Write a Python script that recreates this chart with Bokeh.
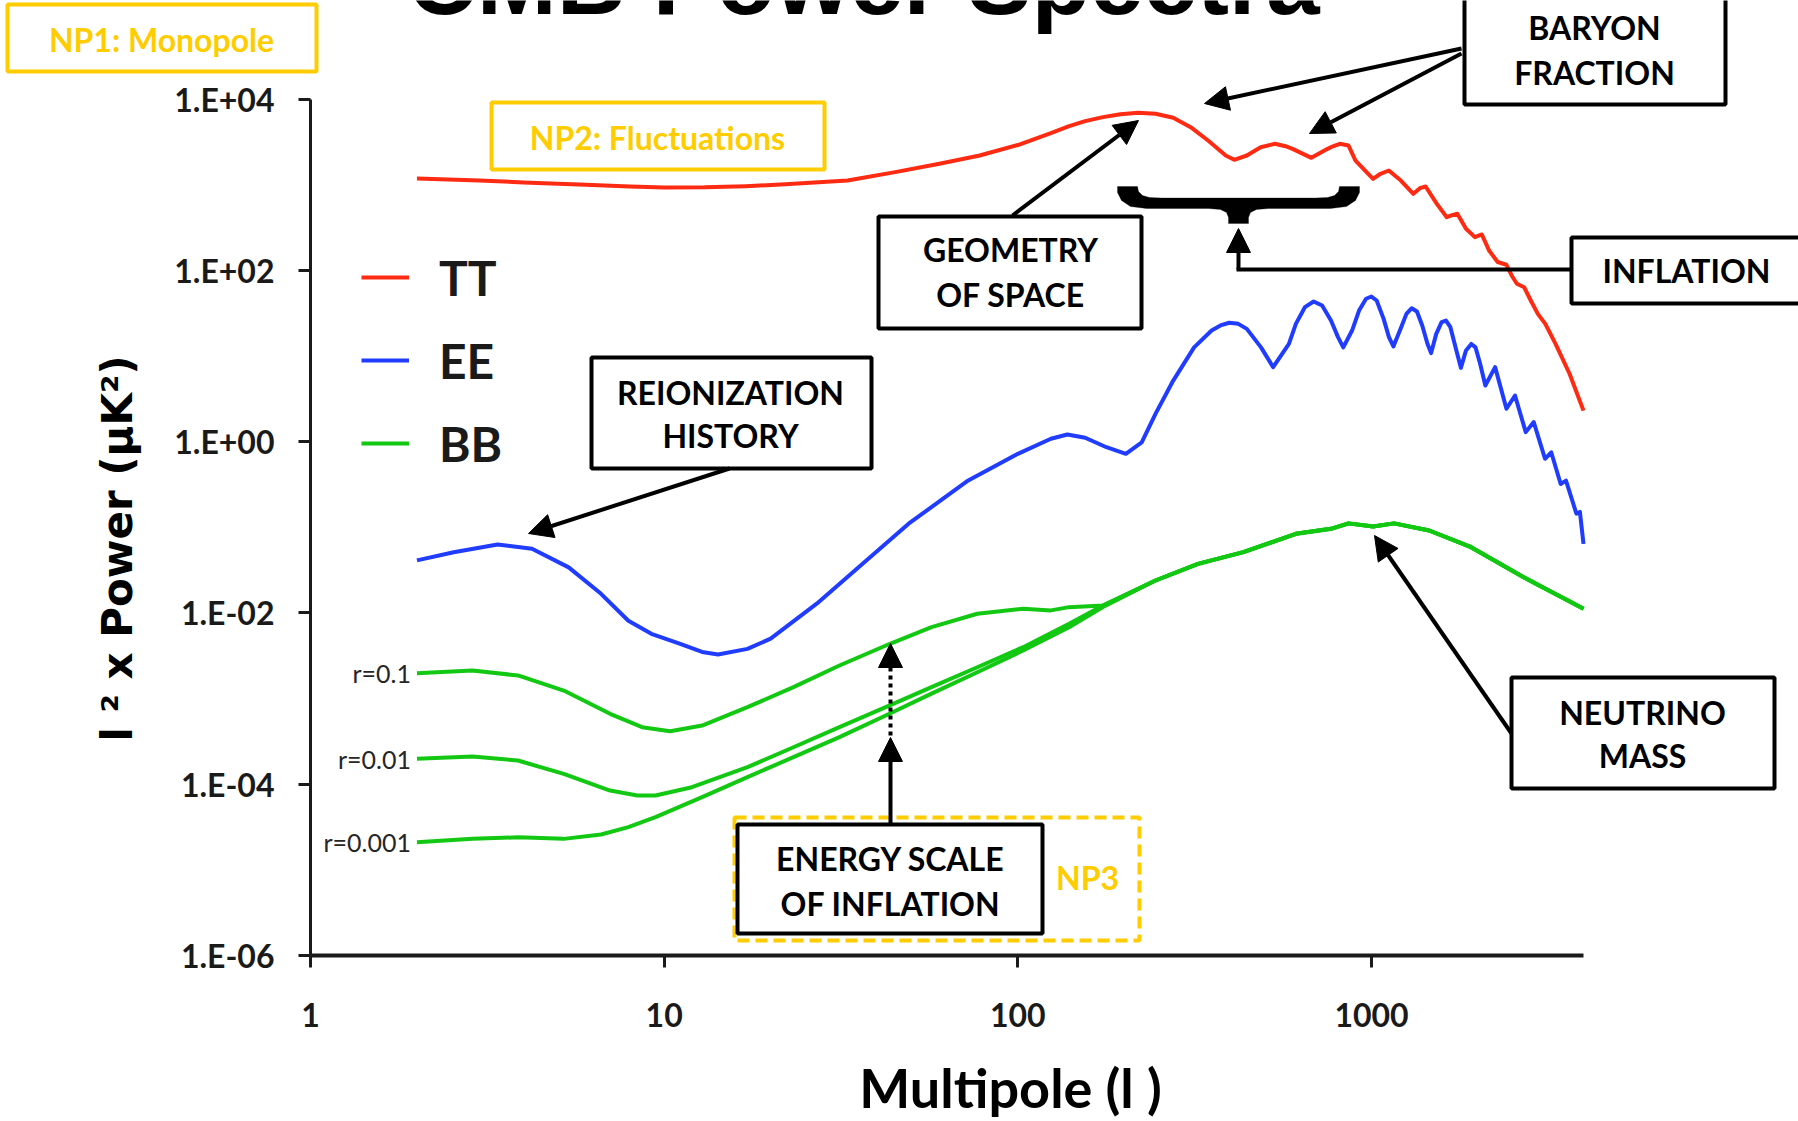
import math
from bokeh.plotting import figure
from bokeh.models import (Range1d, FixedTicker, Label, BoxAnnotation, Arrow, NormalHead,
                          PolyAnnotation, Legend, LegendItem, ColumnDataSource)
from bokeh.core.properties import value
from bokeh.embed import file_html
from bokeh.resources import INLINE

# ---------------- data ----------------
tt_ell = [2, 3, 4, 6, 8, 10, 13, 17, 22, 33, 45, 60, 78, 100, 124, 139, 155, 174, 195, 219,
          245, 275, 308, 345, 387, 409, 444, 486, 533, 571, 598, 676, 751, 768, 813, 861,
          901, 1010, 1060, 1119, 1210, 1313, 1370, 1422, 1530, 1632, 1690, 1748, 1850, 1960,
          2051, 2150, 2273, 2407, 2490, 2576, 2700, 2820, 2953, 3100, 3311, 3630, 3975]
tt_power = [1180, 1120, 1060, 1000, 950, 927, 930, 960, 1010, 1117, 1400, 1750, 2188, 2900,
            4000, 4780, 5510, 6140, 6650, 6900, 6720, 6030, 4690, 3280, 2190, 1950, 2190,
            2735, 3000, 2810, 2620, 2056, 2620, 2735, 3000, 2860, 1910, 1170, 1340, 1463,
            1117, 781, 910, 951, 597, 417, 440, 457, 305, 244, 262, 170, 125, 116, 87, 69.7,
            63.5, 44.4, 31, 23.7, 13.9, 6.2, 2.3]

ee_ell = [2, 2.54, 3.38, 4.23, 5.37, 6.63, 7.92, 9.2, 11.0, 12.8, 14.2, 17.2, 20.0, 27.0,
          36.4, 49.1, 72.4, 100, 124, 138, 155, 178, 202, 224, 245, 275, 315, 353, 374,
          396, 420, 444, 487, 510, 527, 584, 611, 648, 686, 725, 768, 804, 832, 881, 922,
          965, 999, 1034, 1082, 1120, 1153, 1213, 1255, 1299, 1344, 1391, 1440, 1474, 1524,
          1578, 1624, 1671, 1728, 1789, 1850, 1915, 1968, 2028, 2098, 2236, 2407, 2545,
          2729, 2875, 3094, 3222, 3426, 3547, 3796, 3883, 3975]
ee_power = [0.041, 0.051, 0.063, 0.056, 0.034, 0.0167, 0.0081, 0.0057, 0.0044, 0.0035,
            0.00327, 0.0038, 0.0050, 0.0128, 0.0374, 0.110, 0.352, 0.72, 1.08, 1.21, 1.11,
            0.86, 0.72, 0.98, 2.11, 5.16, 12.6, 19.8, 22.7, 24.4, 23.7, 20.7, 12.6, 9.25,
            7.39, 13.8, 23.7, 37.1, 43.2, 38.8, 25.9, 16.6, 12.6, 19.8, 33.9, 46.5, 49.4,
            44.4, 27.1, 16.6, 12.9, 21.7, 31.0, 36.1, 33.0, 22.7, 13.8, 10.8, 18.1, 24.8,
            25.9, 21.7, 12.6, 7.27, 11.6, 13.8, 12.6, 8.1, 4.52, 7.4, 2.42, 3.45, 1.29,
            1.69, 0.63, 0.75, 0.32, 0.35, 0.144, 0.151, 0.064]

# primordial (low-l) parts of BB for three tensor-to-scalar ratios
bb_r01_ell = [2, 2.87, 3.86, 5.2, 7.03, 8.66, 10.4, 12.8, 17.2, 23.2, 31.3, 43.5, 57, 76.8,
              103.5, 124, 139.6, 174]
bb_r01_power = [0.00198, 0.00212, 0.00186, 0.00124, 0.000664, 0.000463, 0.000416, 0.000484,
                0.000793, 0.00136, 0.00243, 0.00436, 0.00681, 0.00977, 0.01117, 0.0107,
                0.01167, 0.0122]
bb_r001_ell = [2, 2.87, 3.86, 5.2, 7.03, 8.4, 9.45, 11.98, 17.2, 23.2, 31.3, 42.3, 57, 76.8,
               103.5, 139.6, 174]
bb_r001_power = [0.000198, 0.000210, 0.000189, 0.000132, 8.43e-5, 7.38e-5, 7.38e-5, 9.23e-5,
                 0.000158, 0.00027, 0.000463, 0.000793, 0.00136, 0.00232, 0.00398, 0.00746,
                 0.0122]
bb_r0001_ell = [2, 2.87, 3.86, 5.2, 6.63, 7.92, 9.45, 12.8, 17.2, 23.2, 31.3, 42.3, 57, 76.8,
                103.5, 139.6, 174]
bb_r0001_power = [2.10e-5, 2.30e-5, 2.40e-5, 2.30e-5, 2.59e-5, 3.15e-5, 4.12e-5, 7.05e-5,
                  0.000121, 0.000207, 0.000354, 0.000634, 0.00114, 0.00203, 0.00364, 0.00681,
                  0.0117]
# lensing-dominated BB tail shared by all three
bb_lens_ell = [245, 323, 434, 611, 768, 861, 1010, 1158, 1455, 1912, 2692, 3975]
bb_lens_power = [0.0239, 0.0374, 0.0512, 0.0839, 0.0959, 0.111, 0.102, 0.111, 0.0916,
                 0.0585, 0.0261, 0.0112]

r_labels = ["r=0.1", "r=0.01", "r=0.001"]
series_names = ["TT", "EE", "BB"]

y_ticks = [1e-6, 1e-4, 1e-2, 1, 1e2, 1e4]
y_tick_labels = ["1.E-06", "1.E-04", "1.E-02", "1.E+00", "1.E+02", "1.E+04"]
x_ticks = [1, 10, 100, 1000]
x_tick_labels = ["1", "10", "100", "1000"]
x_axis_span = (1, 3975)
y_axis_span = (1e-6, 1e4)

TITLE = "CMB Power Spectra"
Y_TITLE = "l \u00b2 x Power (\u03bcK\u00b2)"
X_TITLE = "Multipole (l )"

# ---------------- styling / layout ----------------
W, H = 1798, 1121
# pixel positions of the axes' ends (the frame covers the whole canvas so that
# the call-out boxes outside the axes are not clipped)
AX_LEFT, AX_RIGHT, AX_TOP, AX_BOTTOM = 310, 1583, 98.5, 955
px_per_dec_x = (AX_RIGHT - AX_LEFT) / math.log10(x_axis_span[1] / x_axis_span[0])
px_per_dec_y = (AX_BOTTOM - AX_TOP) / math.log10(y_axis_span[1] / y_axis_span[0])
x_lo = x_axis_span[0] * 10 ** (-AX_LEFT / px_per_dec_x)
x_hi = x_axis_span[1] * 10 ** ((W - AX_RIGHT) / px_per_dec_x)
y_lo = y_axis_span[0] * 10 ** (-(H - AX_BOTTOM) / px_per_dec_y)
y_hi = y_axis_span[1] * 10 ** (AX_TOP / px_per_dec_y)

RED, BLUE, GREEN = "#ff2a12", "#1f3cff", "#12c812"
GOLD = "#ffcc00"
INK = "#1a1a1a"
FONT = "Lato"


def sx(X):
    return X


def sy(Y):
    return H - Y


p = figure(width=W, height=H, x_axis_type="log", y_axis_type="log",
           x_range=Range1d(x_lo, x_hi), y_range=Range1d(y_lo, y_hi),
           output_backend="svg", toolbar_location=None, tools="")
p.min_border = 0
p.min_border_left = 0
p.min_border_right = 0
p.min_border_top = 0
p.min_border_bottom = 0
p.outline_line_color = None
p.xgrid.visible = False
p.ygrid.visible = False
p.background_fill_color = "white"
p.border_fill_color = "white"

# axes
xa = p.xaxis[0]
xa.fixed_location = y_axis_span[0]
xa.bounds = x_axis_span
xa.ticker = FixedTicker(ticks=x_ticks, minor_ticks=[])
xa.major_label_overrides = {t: s for t, s in zip(x_ticks, x_tick_labels)}
xa.axis_line_width = 4
xa.axis_line_color = INK
xa.major_tick_line_width = 3
xa.major_tick_line_color = INK
xa.major_tick_out = 12
xa.major_tick_in = 0
xa.minor_tick_line_color = None
xa.major_label_standoff = 35
xa.major_label_text_font = FONT
xa.major_label_text_font_style = "bold"
xa.major_label_text_font_size = "32px"
xa.major_label_text_color = INK

ya = p.yaxis[0]
ya.fixed_location = x_axis_span[0]
ya.bounds = y_axis_span
ya.ticker = FixedTicker(ticks=y_ticks, minor_ticks=[])
ya.major_label_overrides = {t: s for t, s in zip(y_ticks, y_tick_labels)}
ya.axis_line_width = 3
ya.axis_line_color = INK
ya.major_tick_line_width = 3
ya.major_tick_line_color = INK
ya.major_tick_out = 12
ya.major_tick_in = 0
ya.minor_tick_line_color = None
ya.major_label_standoff = 24
ya.major_label_text_font = FONT
ya.major_label_text_font_style = "bold"
ya.major_label_text_font_size = "32px"
ya.major_label_text_color = INK

# curves
r_tt = p.line(tt_ell, tt_power, line_color=RED, line_width=4, line_join="round")
r_ee = p.line(ee_ell, ee_power, line_color=BLUE, line_width=4, line_join="round")
bb_sets = [(bb_r01_ell, bb_r01_power), (bb_r001_ell, bb_r001_power),
           (bb_r0001_ell, bb_r0001_power)]
bb_renderers = []
for ell, pw in bb_sets:
    r = p.line(list(ell) + bb_lens_ell, list(pw) + bb_lens_power,
               line_color=GREEN, line_width=4, line_join="round")
    bb_renderers.append(r)

# r= labels at the start of each BB curve
rsrc = ColumnDataSource(dict(x=[s[0][0] for s in bb_sets], y=[s[1][0] for s in bb_sets],
                             t=r_labels))
p.text(x="x", y="y", text="t", source=rsrc, text_align="right", text_baseline="middle",
       x_offset=-6, text_font=value(FONT), text_font_size="25px", text_color="#262626")

# legend
legend = Legend(items=[LegendItem(label=series_names[0], renderers=[r_tt]),
                       LegendItem(label=series_names[1], renderers=[r_ee]),
                       LegendItem(label=series_names[2], renderers=[bb_renderers[0]])],
                location=(361, H - 472), orientation="vertical",
                background_fill_alpha=0, border_line_color=None, padding=0, margin=0,
                spacing=25, glyph_width=48, glyph_height=58, label_height=58,
                label_standoff=30, label_text_font=FONT, label_text_font_style="bold",
                label_text_font_size="48px", label_text_color=INK)
p.add_layout(legend)


# ---------------- annotations ----------------
def box(x0, y0, x1, y1, color="black", dash="solid", fill="white", lw=4):
    p.add_layout(BoxAnnotation(left=sx(x0), right=sx(x1), top=sy(y0), bottom=sy(y1),
                               left_units="screen", right_units="screen",
                               top_units="screen", bottom_units="screen",
                               fill_color=fill if fill else "white",
                               fill_alpha=1 if fill else 0,
                               line_color=color, line_width=lw, line_dash=dash,
                               line_alpha=1))


def text(x, y, s, size="32px", color="black", font=FONT, style="bold", angle=0.0,
         align="center", baseline="middle"):
    p.add_layout(Label(x=sx(x), y=sy(y), x_units="screen", y_units="screen", text=s,
                       text_align=align, text_baseline=baseline, text_font=font,
                       text_font_style=style, text_font_size=size, text_color=color,
                       angle=angle))


def arrow(x0, y0, x1, y1, head=True, dash="solid", lw=4):
    p.add_layout(Arrow(x_start=sx(x0), y_start=sy(y0), x_end=sx(x1), y_end=sy(y1),
                       start_units="screen", end_units="screen",
                       end=NormalHead(size=24, fill_color="black", line_color="black",
                                      line_width=1) if head else None,
                       line_color="black", line_width=lw, line_dash=dash))


# title (cut by the top edge, as in the reference)
text(863, -20, TITLE, size="96px", color="black", font="Liberation Sans",
     baseline="alphabetic")

# yellow NP boxes
box(7, 4, 316, 71, color=GOLD, fill="white")
text(161, 39, "NP1: Monopole", size="32px", color=GOLD)
box(491, 102, 824, 169, color=GOLD, fill="white")
text(657, 137, "NP2: Fluctuations", size="32px", color=GOLD)
box(734, 817, 1139, 940, color=GOLD, dash="12 6", fill=None)
text(1087, 877, "NP3", size="32px", color=GOLD)

# black boxes
box(1464, -10, 1725, 104)
text(1594, 27, "BARYON")
text(1594, 72, "FRACTION")
box(878, 216, 1141, 328)
text(1010, 249, "GEOMETRY")
text(1010, 294, "OF SPACE")
box(1571, 237, 1815, 303)
text(1686, 270, "INFLATION")
box(591, 357, 871, 468)
text(730, 392, "REIONIZATION")
text(730, 435, "HISTORY")
box(737, 824, 1042, 933)
text(890, 858, "ENERGY SCALE")
text(890, 903, "OF INFLATION")
box(1511, 677, 1774, 788)
text(1642, 712, "NEUTRINO")
text(1642, 755, "MASS")

# arrows
arrow(1461, 48, 1204, 103)
arrow(1461, 53, 1309, 133)
arrow(1012, 215, 1138, 120)
arrow(1571, 269, 1236, 269, head=False)
arrow(1238, 269, 1238, 228)
arrow(729, 468, 528, 533)
arrow(890, 824, 890, 737)
arrow(890, 735, 890, 643, dash="4 4")
arrow(1511, 733, 1374, 535)

# curly brace under the first TT peaks
brace = [(1117, 186), (1137, 186), (1138, 191), (1142, 195), (1149, 197), (1161, 197.5),
         (1315, 197.5), (1327, 197), (1334, 195), (1338, 191), (1339, 186), (1359, 186),
         (1359, 192), (1355, 200), (1346, 206), (1330, 208), (1268, 208), (1256, 209),
         (1250, 212), (1248, 217), (1248, 223), (1228, 223), (1228, 217), (1226, 212),
         (1220, 209), (1208, 208), (1146, 208), (1130, 206), (1121, 200), (1117, 192)]
p.add_layout(PolyAnnotation(xs=[sx(a) for a, b in brace], ys=[sy(b) for a, b in brace],
                            xs_units="screen", ys_units="screen", fill_color="black",
                            fill_alpha=1, line_color="black", line_width=1))

# axis titles
text(117, 548, Y_TITLE, size="42px", color="black", font="DejaVu Sans", angle=math.pi / 2)
text(1010, 1087, X_TITLE, size="54px", color="black")

open("out.html", "w").write(file_html(p, INLINE))
